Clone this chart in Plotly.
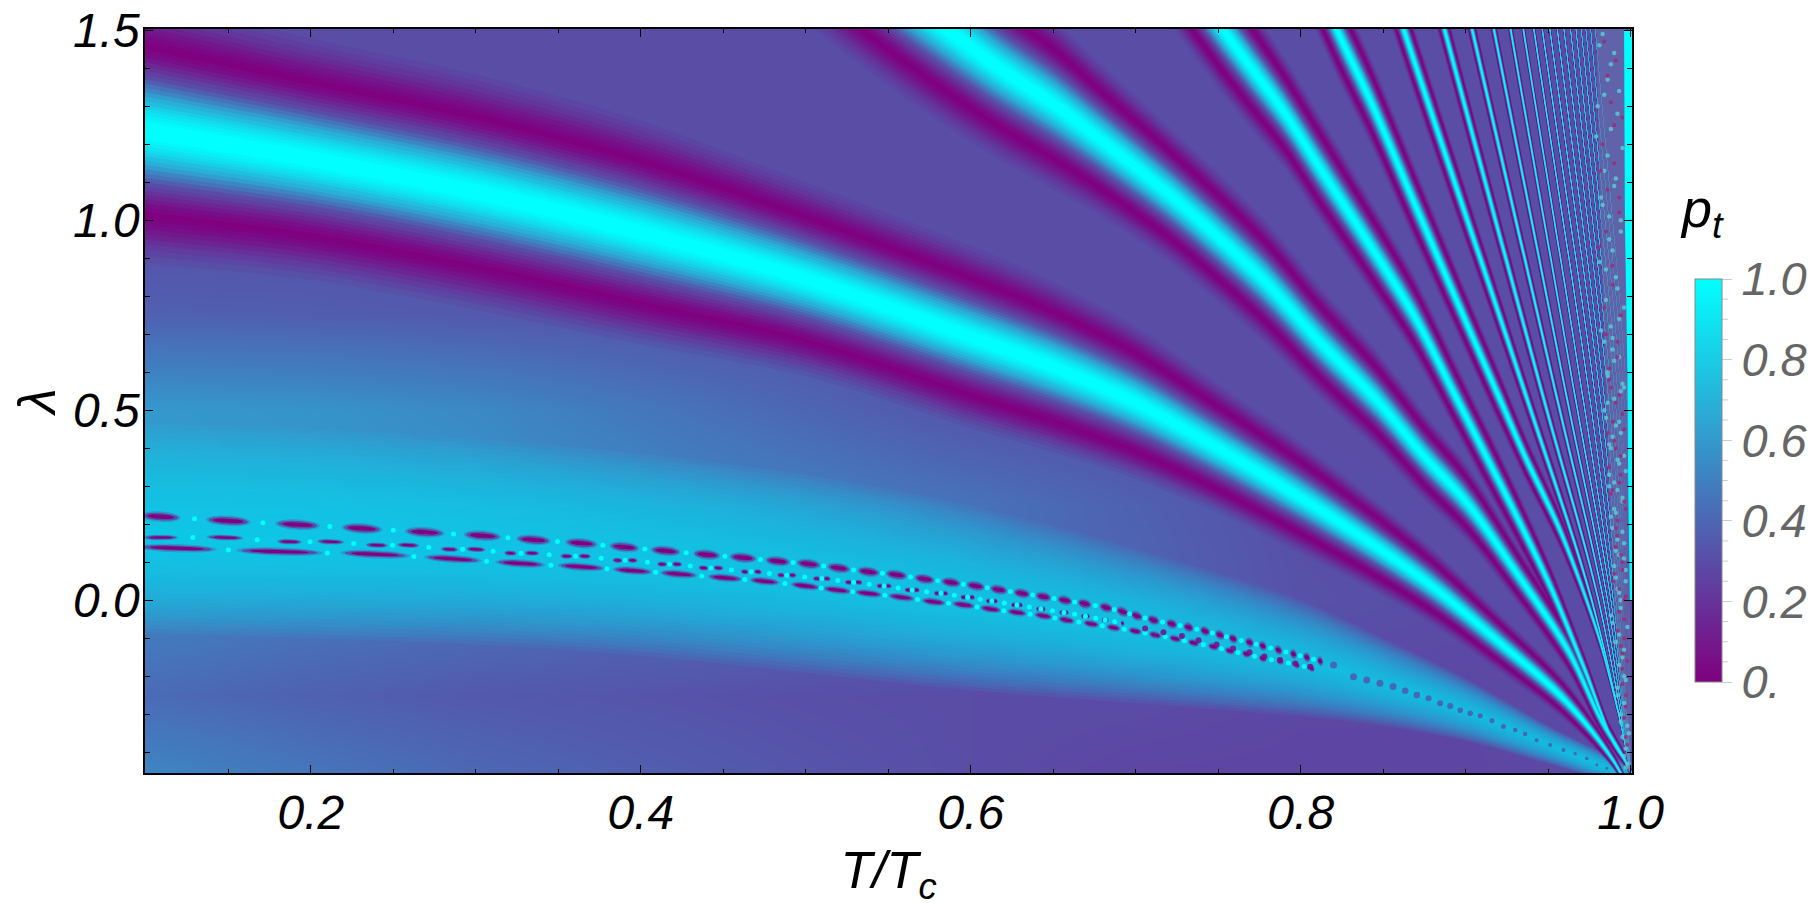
import numpy as np
import plotly.graph_objects as go

# ---- background plateau values (coarse grid) ----
bg_T = [.1, .2, .3, .4, .5, .6, .7, .8, .9, 1.0]
bg_L = [-.5, -.25, 0, .25, .5, .75, 1.0, 1.25, 1.5]
bg_Z = [
    [.55, .48, .42, .38, .34, .30, .27, .27, .27, .30],
    [.42, .38, .35, .33, .31, .30, .30, .28, .28, .30],
    [.52, .48, .45, .43, .42, .42, .40, .32, .30, .30],
    [.60, .60, .57, .54, .50, .45, .38, .31, .30, .30],
    [.60, .58, .54, .47, .40, .33, .30, .30, .30, .30],
    [.38, .37, .35, .33, .31, .30, .30, .30, .30, .30],
    [.30, .30, .30, .30, .30, .30, .30, .30, .30, .30],
    [.30, .30, .30, .30, .30, .30, .30, .30, .30, .30],
    [.30, .30, .30, .30, .30, .30, .30, .30, .30, .30],
]

# ---- main crests: T, lambda, vertical distance crest -> trough ----
A_T = [.05, .1, .2, .3, .4, .5, .6, .65, .7, .75, .8, .84, .88, .92, .96, .99, 1.01]
A_L = [1.27, 1.235, 1.161, 1.074, .968, .845, .693, .614, .52, .40, .27, .158, .036, -.109, -.262, -.425, -.6]
A_W = [.235, .225, .205, .2, .19, .165, .155, .145, .13, .11, .095, .08, .065, .05, .035, .015, .005]
B_T = [.49, .54, .586, .618, .65, .678, .719, .749, .779, .812, .846, .875, .901, .931, .962, .982, 1.0, 1.01]
B_L = [1.82, 1.65, 1.5, 1.398, 1.306, 1.214, 1.073, .959, .836, .678, .527, .378, .255, .071, -.131, -.315, -.45, -.6]
B_W = [.17, .17, .165, .155, .145, .13, .115, .11, .105, .095, .085, .075, .065, .05, .038, .025, .01, .005]
C_T = [.69, .72, .753, .769, .79, .812, .84, .869, .895, .913, .931, .952, .972, .988, 1.0, 1.01]
C_L = [1.88, 1.7, 1.5, 1.407, 1.284, 1.135, .948, .747, .527, .374, .22, .03, -.18, -.36, -.45, -.6]
C_W = [.115, .115, .11, .105, .095, .09, .08, .07, .06, .055, .048, .038, .028, .018, .008, .004]
D_T = [.78, .80, .822, .842, .872, .897, .921, .936, .958, .98, .993, 1.0, 1.01]
D_L = [1.92, 1.72, 1.5, 1.317, 1.014, .764, .527, .378, .176, -.087, -.306, -.45, -.6]
D_W = [.085, .085, .08, .075, .065, .055, .048, .04, .032, .02, .01, .005, .004]

# ---- finer crests: T where each meets lambda = 1.5, 0.527, 0 ----
fine_top = [.8626, .8873, .904, .9172, .9273, .935, .9414, .9465, .9511, .9556, .9596, .9636, .9669, .9701, .9729, .9758, .9786]
fine_mid = [.9374, .9475, .9556, .9616, .9667, .9713, .9754, .9788, .9818, .9842, .9867, .9887, .9907, .9925, .9943, .996, .9976]
fine_low = [.9764, .9805, .9836, .986, .988, .9895, .991, .9925, .9938, .995, .996, .9968, .9975, .998, .9985, .999, .9993]
fine_w_top = [.06, .048, .038, .032, .027, .023, .02, .018, .016, .015, .014, .013, .012, .011, .01, .01, .009]
fine_w_mid = [.033, .028, .024, .02, .017, .015, .013, .012, .01, .009, .009, .008, .007, .007, .006, .006, .005]
fine_w_low = [.016, .014, .012, .01, .009, .008, .007, .006, .005, .005, .004, .004, .004, .003, .003, .003, .003]
fine_lam = [1.5, .527, 0.0]

# ---- broad bright band beneath the triple line ----
band_T = [.05, .1, .2, .3, .4, .5, .6, .7, .8, .85, .9, .95, 1.02]
band_L = [.17, .165, .15, .134, .105, .06, -.002, -.075, -.16, -.22, -.29, -.38, -.5]
band_up = [.3, .3, .3, .29, .28, .27, .25, .21, .16, .12, .085, .05, .01]
band_dn = [.25, .25, .25, .25, .25, .25, .235, .195, .145, .11, .08, .05, .01]

# ---- dashed triple line: centre T, centre lambda, half length in T ----
top_T = [.109, .15, .192, .231, .269, .304, .335, .364, .39, .415, .44, .462, .483, .5017, .52, .538, .555, .572, .588, .603, .617, .631, .644, .657, .669, .682, .692, .7006, .7107, .7218, .732, .742, .751, .759, .769, .777, .7865, .7956, .8037, .8118]
top_L = [.22, .209, .199, .189, .179, .17, .159, .15, .14, .13, .12, .112, .103, .0956, .085, .075, .067, .056, .047, .0377, .028, .0183, .0096, 0, -.009, -.019, -.03, -.041, -.052, -.062, -.071, -.081, -.091, -.101, -.111, -.12, -.131, -.1414, -.15, -.16]
top_H = [.0102, .0115, .0115, .0105, .0102, .0096, .0089, .0083, .0077, .0077, .007, .007, .0064, .0062, .006, .0058, .0055, .0052, .005, .0048, .0045, .0042, .004, .0038, .0036, .0034, .0032, .003, .003, .0028, .0026, .0025, .0024, .0022, .0022, .002, .002, .0018, .0018, .0016]
mid_T = [.109, .148, .187, .212, .24, .259, .284, .3, .321, .334, .355, .366, .386, .395, .413, .422, .438, .447, .463, .471, .485, .492, .5067, .5128, .526, .532, .545, .55, .562, .567, .5795, .5845, .5956, .6007, .6108, .6148, .626, .63, .641, .644, .655, .658, .668, .671, .6805, .6825, .692]
mid_L = [.165, .165, .154, .154, .145, .145, .134, .134, .124, .124, .116, .116, .105, .105, .095, .095, .085, .085, .075, .075, .066, .066, .057, .057, .0473, .0473, .0377, .0377, .027, .027, .0183, .0183, .008, .008, -.002, -.002, -.0124, -.0124, -.023, -.023, -.032, -.032, -.042, -.042, -.052, -.052, -.0605]
mid_H = [.009, .0096, .0064, .007, .0057, .0057, .0045, .005, .0032, .0038, .0032, .0032, .0026, .0026, .0026, .0026, .0026, .0026, .002, .002, .002, .002, .002, .002, .002, .002, .0018, .0018, .0018, .0018, .0016, .0016, .0016, .0016, .0014, .0014, .0014, .0014, .0012, .0012, .0012, .0012, .001, .001, .001, .001, .001]
bot_T = [.119, .181, .239, .286, .327, .364, .395, .423, .451, .475, .4997, .519, .538, .558, .5775, .5956, .612, .628, .644, .658, .673, .6865, .6996, .7118, .7239, .735, .747, .757, .767, .777, .7875, .7976, .8067]
bot_L = [.137, .128, .121, .109, .097, .088, .078, .069, .059, .05, .0377, .027, .018, .008, -.004, -.012, -.023, -.032, -.041, -.052, -.062, -.072, -.081, -.0914, -.101, -.112, -.122, -.133, -.1414, -.153, -.16, -.17, -.179]
bot_H = [.0204, .0223, .0179, .0147, .0128, .0121, .0102, .0096, .0089, .0077, .0075, .0072, .007, .0068, .0062, .0058, .0054, .005, .0046, .0042, .004, .0036, .0034, .0032, .003, .0028, .0026, .0024, .0022, .002, .0018, .0016, .0015]
tick_T = [.7057, .7168, .728, .738, .749, .759, .769, .778, .7875, .7966, .8057]
tick_L = [-.074, -.084, -.094, -.105, -.116, -.127, -.137, -.148, -.157, -.166, -.175]
bead_T = [.8199, .832, .84, .848, .856, .8633, .8704, .8775, .8845, .8906, .8967, .9027, .9088, .9159, .9229, .93, .936, .943, .9512, .9593, .9664, .9734, .9795, .9855]
bead_L = [-.17, -.201, -.21, -.218, -.227, -.238, -.249, -.258, -.271, -.278, -.289, -.297, -.304, -.317, -.332, -.341, -.352, -.368, -.381, -.394, -.404, -.416, -.433, -.442]
bead_S = [7, 7, 7, 7, 7, 6.5, 6.5, 6, 6, 6, 5.5, 5.5, 5, 5, 5, 4.5, 4.5, 4, 4, 4, 3.5, 3.5, 3, 3]

# ---- speckled zone near T = 1 ----
edge_L = [1.5, 1.0, .6, .3, 0.0]
edge_T = [.996, .9965, .998, .9985, .9995]
haze_L = [1.55, 1.1, .7, .3, 0.0, -.3, -.45]
haze_left = [.979, .981, .984, .987, .99, .995, .998]
haze_right = [.997, .9975, .998, .999, .9995, 1.0, 1.0]
speck_cool_T = [.981, .988, .984, .992, .979, .986, .99, .983, .994, .987, .981, .991, .985, .993, .982, .989, .986, .994, .984, .991, .987, .993, .99, .995, .988, .992, .996, .991, .994, .993, .996,
                .983, .99, .986, .993, .98, .988, .995, .984, .991, .982, .987, .994, .989, .985, .992, .996, .988, .984, .99, .995, .986, .993, .989, .996, .987, .992, .99, .995, .991, .997, .993, .988, .996, .992, .994,
                .989, .993, .986, .996, .99, .985, .994, .988, .992, .997, .987, .995, .991, .989, .996, .993, .99, .997, .992, .994, .989, .998, .991, .995, .993, .997, .992, .996, .994, .998, .995, .997, .996, .998, .997, .999]
speck_cool_L = [1.46, 1.41, 1.33, 1.28, 1.22, 1.17, 1.09, 1.04, 1.0, .95, .89, .85, .79, .74, .71, .66, .59, .55, .5, .46, .41, .36, .31, .27, .22, .16, .11, .06, 0.0, -.09, -.2,
                1.49, 1.44, 1.37, 1.34, 1.3, 1.24, 1.19, 1.13, 1.11, 1.06, 1.01, .97, .92, .87, .82, .77, .72, .68, .63, .57, .52, .47, .43, .38, .33, .29, .24, .18, .13, .08, .02, -.04, -.13, -.25, -.3,
                .69, .64, .6, .56, .53, .48, .44, .4, .37, .34, .3, .26, .23, .19, .15, .12, .09, .05, .03, -.02, -.06, -.07, -.11, -.15, -.17, -.21, -.23, -.27, -.32, -.33, -.36, -.39, -.41, -.43, -.44, -.35]
speck_warm_T = [.986, .99, .982, .993, .985, .989, .984, .992, .987, .991, .986, .994, .989, .992, .991, .995, .993, .996, .995, .997, .997,
                .984, .991, .988, .995, .983, .99, .986, .993, .981, .989, .994, .985, .992, .988, .995, .99, .987, .993, .996, .991, .994, .989, .996, .992, .995,
                .987, .993, .989, .996, .991, .994, .988, .997, .992, .995, .99, .997, .993, .996, .994, .998, .995, .997, .996, .998]
speck_warm_L = [1.38, 1.25, 1.13, 1.06, .97, .88, .77, .68, .61, .52, .44, .38, .29, .21, .14, .08, .03, -.05, -.14, -.25, -.36,
                1.47, 1.42, 1.31, 1.27, 1.2, 1.15, 1.08, 1.02, .93, .83, .75, .7, .64, .56, .49, .42, .35, .31, .26, .19, .12, .05, 0.0, -.08, -.18,
                .58, .54, .47, .45, .4, .33, .28, .24, .17, .1, .07, .01, -.03, -.1, -.12, -.16, -.22, -.28, -.31, -.38]

# ---- ticks and labels ----
x_ticks = [.2, .4, .6, .8, 1.0]
x_labels = ["0.2", "0.4", "0.6", "0.8", "1.0"]
y_ticks = [0, .5, 1.0, 1.5]
y_labels = ["0.0", "0.5", "1.0", "1.5"]
cb_ticks = [0, .2, .4, .6, .8, 1.0]
cb_labels = ["0.", "0.2", "0.4", "0.6", "0.8", "1.0"]
cb_minor = [.05, .1, .15, .25, .3, .35, .45, .5, .55, .65, .7, .75, .85, .9, .95]

PURPLE = (128, 0, 128)
CYAN = (0, 255, 255)


def col(p, a=1.0):
    rgb = [round(PURPLE[i] + (CYAN[i] - PURPLE[i]) * p) for i in range(3)]
    return f"rgba({rgb[0]},{rgb[1]},{rgb[2]},{a})"


ridges = [(A_T, A_L, A_W), (B_T, B_L, B_W), (C_T, C_L, C_W), (D_T, D_L, D_W)]
for t0, t1, t2, w0, w1, w2 in zip(fine_top, fine_mid, fine_low, fine_w_top, fine_w_mid, fine_w_low):
    ext = t0 - (t1 - t0) * .9
    ridges.append(([ext, t0, t1, t2, 1.0, 1.005],
                   [2.4, fine_lam[0], fine_lam[1], fine_lam[2], -.45, -.6],
                   [w0, w0, w1, w2, .003, .003]))

# (distance factor from crest, fill)
levels = [
    (1.55, col(0, .08)), (1.47, col(0, .1)), (1.4, col(0, .13)), (1.33, col(0, .17)), (1.27, col(0, .22)),
    (1.21, col(0, .28)), (1.15, col(0, .35)), (1.1, col(0, .45)), (1.05, col(0, .55)), (1.0, col(.0)),
    (.95, col(.03)), (.9, col(.06)), (.85, col(.1)), (.8, col(.15)), (.75, col(.2)), (.7, col(.25)),
    (.65, col(.3)), (.6, col(.37)), (.55, col(.45)), (.5, col(.53)), (.45, col(.62)), (.4, col(.69)),
    (.35, col(.75)), (.3, col(.81)), (.26, col(.86)), (.22, col(.9)), (.18, col(.94)), (.14, col(.97)), (.1, col(1)),
]


def poly(ts, ups, dns):
    return list(ts) + list(ts)[::-1] + [None], list(ups) + list(dns)[::-1] + [None]


fig = go.Figure()
fig.add_trace(go.Heatmap(
    x=bg_T, y=bg_L, z=bg_Z, zmin=0, zmax=1, zsmooth="best", hoverinfo="skip",
    colorscale=[[0, col(0)], [1, col(1)]],
    colorbar=dict(
        x=(1695 - 144.5) / 1487.5, xanchor="left", xpad=0, ypad=0,
        y=(773 - 682) / 744, yanchor="bottom",
        thicknessmode="pixels", thickness=27, lenmode="pixels", len=403,
        outlinecolor="#888888", outlinewidth=1,
        tickmode="array", tickvals=cb_ticks, ticktext=cb_labels,
        ticks="outside", ticklen=10, tickcolor="#cccccc", tickwidth=1,
        tickfont=dict(family="Liberation Sans", size=47, color="#666666", style="italic"),
    ),
))

n_band = 24
for k in range(n_band):
    f = 1 - k / n_band
    xs, ys = poly(band_T,
                  [l + f * u for l, u in zip(band_L, band_up)],
                  [l - f * d for l, d in zip(band_L, band_dn)])
    fig.add_trace(go.Scatter(x=xs, y=ys, mode="lines", fill="toself", fillcolor=col(.86, .075),
                             line=dict(width=0, shape="spline", smoothing=.9),
                             hoverinfo="skip", showlegend=False))

for f, fill in levels:
    xs, ys = [], []
    for ts, ls, ws in ridges:
        px, py = poly(ts, [l + f * w for l, w in zip(ls, ws)], [l - f * w for l, w in zip(ls, ws)])
        xs += px
        ys += py
    fig.add_trace(go.Scatter(x=xs, y=ys, mode="lines", fill="toself", fillcolor=fill,
                             line=dict(width=0, shape="spline", smoothing=.9),
                             hoverinfo="skip", showlegend=False))

theta = np.linspace(0, 2 * np.pi, 14)[:-1]


def ellipses(ts, ls, hs, thick, scale):
    slope = np.gradient(ls, ts)
    xs, ys = [], []
    for t, l, h, s in zip(ts, ls, hs, slope):
        dx = h * scale * np.cos(theta)
        xs += list(t + dx) + [None]
        ys += list(l + s * dx + thick * np.sin(theta)) + [None]
    return xs, ys


for ts, ls, hs, th in [(top_T, top_L, top_H, .014), (mid_T, mid_L, mid_H, .008), (bot_T, bot_L, bot_H, .011)]:
    for scale, tscale, fill in [(1.2, 1.0, col(.35, .4)), (1.05, .72, col(.12, .6)), (.82, .42, col(0))]:
        xs, ys = ellipses(ts, ls, hs, th * tscale, scale)
        fig.add_trace(go.Scatter(x=xs, y=ys, mode="lines", fill="toself", fillcolor=fill,
                                 line=dict(width=0), hoverinfo="skip", showlegend=False))
    gap_x = [(a + b) / 2 for a, b in zip(ts[:-1], ts[1:])]
    gap_y = [(a + b) / 2 for a, b in zip(ls[:-1], ls[1:])]
    fig.add_trace(go.Scatter(x=gap_x, y=gap_y, mode="markers",
                             marker=dict(size=5, color=col(1), line=dict(width=0)),
                             hoverinfo="skip", showlegend=False))

fig.add_trace(go.Scatter(x=tick_T, y=tick_L, mode="markers",
                         marker=dict(size=6, color=col(.05, .85), line=dict(width=0)),
                         hoverinfo="skip", showlegend=False))
fig.add_trace(go.Scatter(x=bead_T, y=bead_L, mode="markers",
                         marker=dict(size=bead_S, color=col(.12, .75), line=dict(width=0)),
                         hoverinfo="skip", showlegend=False))

hx, hy = list(haze_left) + list(haze_right)[::-1], list(haze_L) + list(haze_L)[::-1]
fig.add_trace(go.Scatter(x=hx, y=hy, mode="lines", fill="toself", fillcolor="rgba(100,110,170,.65)",
                         line=dict(width=0), hoverinfo="skip", showlegend=False))
fig.add_trace(go.Scatter(x=speck_cool_T, y=speck_cool_L, mode="markers",
                         marker=dict(size=4.5, color="rgba(90,205,215,.8)", line=dict(width=0)),
                         hoverinfo="skip", showlegend=False))
fig.add_trace(go.Scatter(x=speck_warm_T, y=speck_warm_L, mode="markers",
                         marker=dict(size=4, color="rgba(160,40,120,.85)", line=dict(width=0)),
                         hoverinfo="skip", showlegend=False))
ex, ey = list(edge_T) + [1.002] * len(edge_L), list(edge_L) + list(edge_L)[::-1]
fig.add_trace(go.Scatter(x=ex, y=ey, mode="lines", fill="toself", fillcolor=col(1),
                         line=dict(width=0), hoverinfo="skip", showlegend=False))

tick_font = dict(family="Liberation Sans", size=48, color="black", style="italic")
title_font = dict(family="Liberation Sans", size=52, color="black")
axis_common = dict(showgrid=False, zeroline=False, showline=True, linecolor="black", linewidth=1.5,
                   mirror="ticks", ticks="inside", ticklen=8, tickwidth=1, tickcolor="black",
                   tickfont=tick_font, tickmode="array", layer="above traces",
                   ticklabeloverflow="allow")
fig.update_xaxes(range=[.0995, 1.0008], tickvals=x_ticks, ticktext=x_labels, ticklabelstandoff=-3,
                 minor=dict(dtick=.05, tick0=0, ticks="inside", ticklen=4, tickcolor="black", tickwidth=1),
                 title=dict(text="<i>T/T<sub>c</sub></i>", font=title_font, standoff=16),
                 **axis_common)
fig.update_yaxes(range=[-.4544, 1.503], tickvals=y_ticks, ticktext=y_labels, ticklabelstandoff=-6,
                 minor=dict(dtick=.1, tick0=0, ticks="inside", ticklen=5, tickcolor="black", tickwidth=1),
                 title=dict(text="<i>λ</i>", font=title_font, standoff=1),
                 **axis_common)

cb_left = (1722 - 144.5) / 1487.5
shapes = []
for v in cb_minor:
    yp = ((682 - 403 * v) - 773) / -744
    shapes.append(dict(type="line", xref="paper", yref="paper", x0=cb_left, x1=cb_left + 6 / 1487.5,
                       y0=yp, y1=yp, line=dict(color="#cccccc", width=1)))

fig.update_layout(
    width=1818, height=907, autosize=False,
    margin=dict(l=144.5, r=186, t=29, b=134, pad=0, autoexpand=False),
    paper_bgcolor="white", plot_bgcolor="white", showlegend=False,
    shapes=shapes,
    annotations=[dict(text="<i>p<sub>t</sub></i>", xref="paper", yref="paper",
                      x=(1678 - 144.5) / 1487.5, y=(773 - 212) / 744, xanchor="left", yanchor="middle",
                      showarrow=False, font=dict(family="Liberation Sans", size=54, color="black"))],
)
fig.write_html("out.html", config={"displayModeBar": False},
               post_script="document.body.style.margin='0px';document.documentElement.style.overflow='hidden';")
